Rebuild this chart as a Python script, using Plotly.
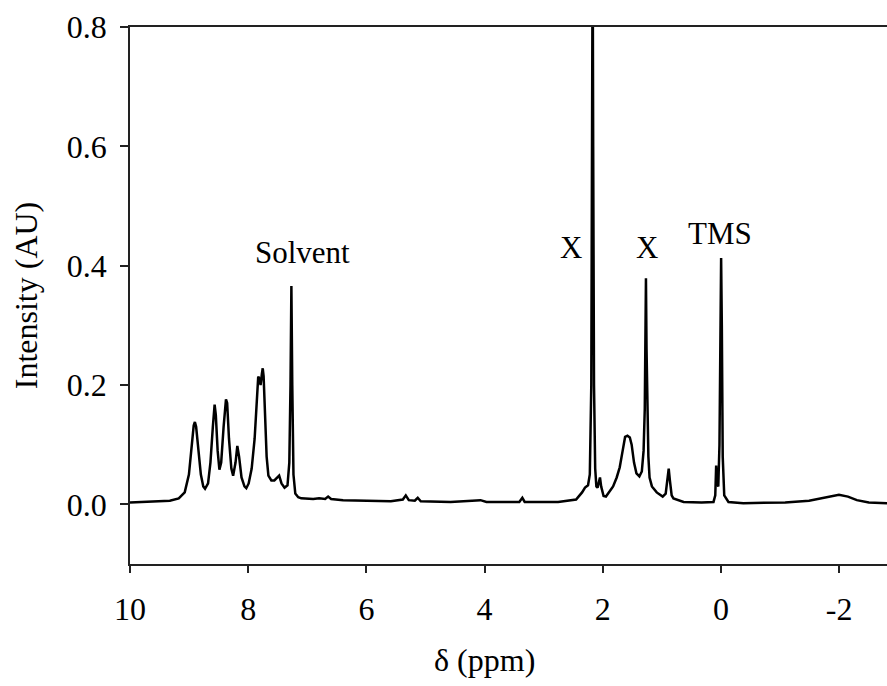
import plotly.graph_objects as go

# Chemical shift (ppm) and intensity (AU)
ppm = [
    10.0, 9.63, 9.326, 9.175, 9.074, 9.003, 8.952, 8.922, 8.902, 8.881, 8.841, 8.801, 8.760, 8.730,
    8.679, 8.639, 8.598, 8.568, 8.548, 8.517, 8.487, 8.457, 8.416, 8.376, 8.356, 8.325, 8.285, 8.255,
    8.214, 8.184, 8.154, 8.113, 8.063, 8.032, 7.992, 7.941, 7.891, 7.860, 7.830, 7.810, 7.790, 7.769,
    7.754, 7.739, 7.719, 7.688, 7.658, 7.608, 7.557, 7.506, 7.476, 7.436, 7.385, 7.335, 7.304, 7.284,
    7.269, 7.254, 7.234, 7.203, 7.153, 7.102, 6.90, 6.80, 6.698, 6.647, 6.597, 6.394, 5.99, 5.586,
    5.383, 5.333, 5.282, 5.181, 5.131, 5.08, 4.575, 4.069, 3.968, 3.412, 3.361, 3.321, 2.755, 2.451,
    2.35, 2.30, 2.249, 2.219, 2.194, 2.181, 2.171, 2.162, 2.148, 2.128, 2.108, 2.088, 2.067,
    2.047, 2.027, 1.986, 1.946, 1.895, 1.825, 1.764, 1.713, 1.663, 1.622, 1.582, 1.542, 1.511, 1.471,
    1.43, 1.38, 1.339, 1.309, 1.289, 1.279, 1.269, 1.259, 1.248, 1.228, 1.208, 1.168, 1.087, 0.986,
    0.935, 0.905, 0.884, 0.864, 0.834, 0.804, 0.632, 0.328, 0.126, 0.096, 0.081, 0.066, 0.045, 0.025,
    0.01, -0.003, -0.015, -0.03, -0.056, -0.127, -0.379, -1.087, -1.491, -1.694, -1.896, -1.997,
    -2.149, -2.30, -2.502, -2.81,
]
intensity = [
    0.003, 0.004, 0.006, 0.010, 0.020, 0.050, 0.100, 0.132, 0.138, 0.130, 0.090, 0.050, 0.030, 0.026,
    0.035, 0.070, 0.130, 0.167, 0.150, 0.090, 0.058, 0.070, 0.130, 0.176, 0.170, 0.110, 0.060, 0.048,
    0.070, 0.098, 0.080, 0.045, 0.030, 0.027, 0.035, 0.060, 0.110, 0.170, 0.214, 0.210, 0.200, 0.218,
    0.228, 0.215, 0.150, 0.080, 0.048, 0.040, 0.040, 0.046, 0.048, 0.035, 0.028, 0.032, 0.070, 0.200,
    0.366, 0.200, 0.050, 0.018, 0.012, 0.010, 0.009, 0.010, 0.009, 0.013, 0.009, 0.007, 0.006, 0.005,
    0.008, 0.015, 0.007, 0.006, 0.011, 0.005, 0.004, 0.007, 0.004, 0.004, 0.011, 0.004, 0.004, 0.008,
    0.020, 0.028, 0.032, 0.050, 0.200, 0.600, 0.950, 0.600, 0.200, 0.060, 0.030, 0.028, 0.036,
    0.045, 0.030, 0.014, 0.013, 0.020, 0.030, 0.045, 0.062, 0.090, 0.113, 0.115, 0.112, 0.100, 0.070,
    0.052, 0.047, 0.055, 0.090, 0.160, 0.260, 0.379, 0.260, 0.160, 0.080, 0.045, 0.030, 0.020, 0.013,
    0.018, 0.040, 0.060, 0.040, 0.015, 0.010, 0.004, 0.003, 0.004, 0.015, 0.065, 0.035, 0.030, 0.100,
    0.300, 0.413, 0.300, 0.080, 0.015, 0.004, 0.002, 0.003, 0.006, 0.010, 0.015, 0.016,
    0.013, 0.007, 0.003, 0.002,
]

x_ticks = [10, 8, 6, 4, 2, 0, -2]
x_tick_text = ["10", "8", "6", "4", "2", "0", "-2"]
y_ticks = [0.0, 0.2, 0.4, 0.6, 0.8]
y_tick_text = ["0.0", "0.2", "0.4", "0.6", "0.8"]

labels = ["Solvent", "X", "X", "TMS"]
label_x = [7.08, 2.54, 1.245, 0.017]
label_y = [0.422, 0.431, 0.431, 0.454]

FONT = "Liberation Serif, Times New Roman, serif"

fig = go.Figure()
fig.add_trace(go.Scatter(x=ppm, y=intensity, mode="lines",
                         line=dict(color="black", width=2.5), showlegend=False,
                         hoverinfo="skip"))

for t, lx, ly in zip(labels, label_x, label_y):
    fig.add_annotation(x=lx, y=ly, text=t, showarrow=False,
                       font=dict(family=FONT, size=31, color="black"))

# x-axis title placed under the tick labels, centred on 4 ppm as in the reference
fig.add_annotation(x=4, xref="x", y=-0.178, yref="paper", yanchor="middle",
                   text="δ (ppm)", showarrow=False,
                   font=dict(family=FONT, size=32, color="black"))

fig.update_layout(
    width=887, height=686,
    margin=dict(l=130, r=0, t=27, b=122),
    paper_bgcolor="white", plot_bgcolor="white",
    font=dict(family=FONT, size=32, color="black"),
    xaxis=dict(range=[10, -2.81], tickvals=x_ticks, ticktext=x_tick_text,
               showline=True, mirror=True, linecolor="#222", linewidth=1.5,
               ticks="outside", ticklen=7, tickwidth=1.5, tickcolor="#222",
               ticklabelstandoff=9,
               showgrid=False, zeroline=False),
    yaxis=dict(range=[-0.1, 0.8], tickvals=y_ticks, ticktext=y_tick_text,
               showline=True, mirror=False, linecolor="#222", linewidth=1.5,
               ticks="outside", ticklen=8, tickwidth=1.5, tickcolor="#222",
               ticklabelstandoff=7,
               showgrid=False, zeroline=False,
               title=dict(text="Intensity (AU)", font=dict(size=32), standoff=20)),
)

fig.write_html("out.html",
               config={"displayModeBar": False},
               post_script="document.body.style.margin='0';document.body.style.overflow='hidden';")
